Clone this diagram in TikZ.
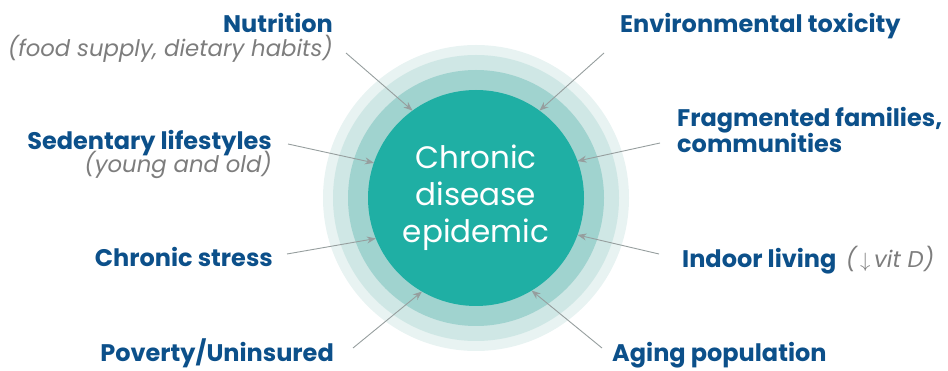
\documentclass[tikz,border=0pt]{standalone}
\usepackage{fontspec}
\setmainfont{Poppins}
\usetikzlibrary{arrows.meta,positioning}
\definecolor{tealcore}{RGB}{31,175,164}
\definecolor{ringA}{RGB}{160,211,207}
\definecolor{ringB}{RGB}{207,231,229}
\definecolor{ringC}{RGB}{232,243,242}
\definecolor{labelblue}{RGB}{12,80,138}
\definecolor{subgray}{RGB}{125,125,125}
\definecolor{arrowgray}{RGB}{150,158,158}
\tikzset{
    core/.style={
        circle,
        fill=tealcore,
        text=white,
        minimum size=216pt,
        outer sep=0pt,
        align=center,
        font=\fontsize{31}{37}\selectfont
    },
    ring/.style={
        circle,
        minimum size=#1,
        outer sep=0pt
    },
    factor/.style={
        text=labelblue,
        inner sep=0pt,
        align=left,
        font=\bfseries\fontsize{24}{22}\selectfont
    },
    note/.style={
        text=subgray,
        inner sep=0pt,
        font=\itshape\fontsize{22.8}{24}\selectfont
    },
    cause/.style={
        draw=arrowgray,
        line width=0.9pt,
        -{Stealth[length=9pt,width=7pt]}
    }
}

\begin{document}
\begin{tikzpicture}[x=1pt,y=-1pt]
    \useasboundingbox (0,0) rectangle (948,371);
    % rings round the core
    \node [ring=306pt,fill=ringC] (r3) at (476,198) {};
    \node [ring=286pt,fill=ringB] (r2) at (476,198) {};
    \node [ring=256pt,fill=ringA] (r1) at (476,198) {};
    \node [core] (core) at (476,198) {Chronic\\disease\\epidemic};
    % factors, left
    \node [factor,anchor=base east] (nutr) at (333,33) {Nutrition};
    \node [note,anchor=base east] (nutrnote) at (333,57) {(food supply, dietary habits)};
    \node [factor,anchor=base east] (sed) at (272,150) {Sedentary lifestyles};
    \node [note,anchor=base east] (sednote) at (272,173) {(young and old)};
    \node [factor,anchor=base east] (stress) at (273,267) {Chronic stress};
    \node [factor,anchor=base east] (pov) at (334,362) {Poverty/Uninsured};
    % factors, right
    \node [factor,anchor=base west] (env) at (620,33) {Environmental toxicity};
    \node [factor,anchor=base west] (frag) at (677,153) {Fragmented families,\\communities};
    \node [factor,anchor=base west] (indoor) at (682,268) {Indoor living};
    \node [note,right=9pt of indoor.base east,anchor=base west] (indoornote)
        {(\,$\downarrow$\,vit D)};
    \node [factor,anchor=base west] (aging) at (612,362) {Aging population};
    % start points of the arrows
    \coordinate (nutr-a) at (346,53);
    \coordinate (sed-a) at (288,144);
    \coordinate (stress-a) at (287,254);
    \coordinate (pov-a) at (353,348);
    \coordinate (env-a) at (604,53);
    \coordinate (frag-a) at (660,143);
    \coordinate (indoor-a) at (659,254);
    \coordinate (aging-a) at (602,348);
    \draw [cause] (nutr-a) -- (core.126);
    \draw [cause] (sed-a) -- (core.161);
    \draw [cause] (stress-a) -- (core.202);
    \draw [cause] (pov-a) -- (core.240);
    \draw [cause] (env-a) -- (core.54);
    \draw [cause] (frag-a) -- (core.20);
    \draw [cause] (indoor-a) -- (core.340);
    \draw [cause] (aging-a) -- (core.301);
\end{tikzpicture}
\end{document}
